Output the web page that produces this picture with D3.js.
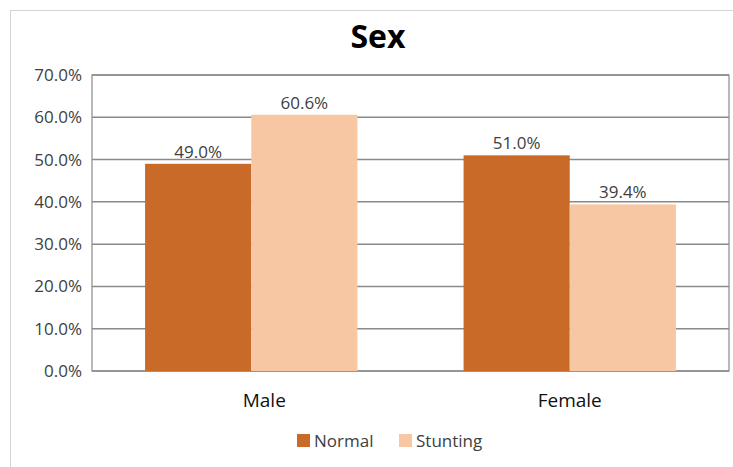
<!DOCTYPE html>
<html>
<head>
<meta charset="utf-8">
<script src="https://cdn.jsdelivr.net/npm/d3@7"></script>
<style>
  body { margin: 0; background: #fff; }
  text { font-family: "Open Sans", "Noto Sans", sans-serif; }
</style>
</head>
<body>
<svg id="chart" width="733" height="467"></svg>
<script>
// chart data
var categories = ["Male", "Female"];
var seriesNames = ["Normal", "Stunting"];
var normalValues = [0.490, 0.510];
var stuntingValues = [0.606, 0.394];
var yTicks = [0, 0.1, 0.2, 0.3, 0.4, 0.5, 0.6, 0.7];
var colors = { "Normal": "#C96A28", "Stunting": "#F7C7A4" };

var svg = d3.select("#chart");
var margin = { left: 92, top: 75, right: 729, bottom: 371 };

// outer frame of the chart
svg.append("rect")
    .attr("x", 10.5).attr("y", 10.5)
    .attr("width", 740).attr("height", 470)
    .attr("fill", "none").attr("stroke", "#d4d4d4");

svg.append("text")
    .attr("x", 378).attr("y", 48)
    .attr("text-anchor", "middle")
    .style("font-size", "32px").style("font-weight", "bold")
    .attr("fill", "#000")
    .text("Sex");

var x0 = d3.scaleBand().domain(categories)
    .range([margin.left, margin.right]).paddingInner(0).paddingOuter(0);
var x1 = d3.scaleBand().domain(seriesNames)
    .range([0, x0.bandwidth()]).paddingInner(0).paddingOuter(0.5);
var y = d3.scaleLinear().domain([0, 0.7]).range([margin.bottom, margin.top]);

// gridlines
svg.append("g").selectAll("line").data(yTicks).enter().append("line")
    .attr("x1", margin.left).attr("x2", margin.right)
    .attr("y1", function(d) { return y(d); })
    .attr("y2", function(d) { return y(d); })
    .attr("stroke", "#8a8a8a").attr("stroke-width", 1.5);

// plot area border
svg.append("rect")
    .attr("x", margin.left).attr("y", margin.top)
    .attr("width", margin.right - margin.left)
    .attr("height", margin.bottom - margin.top)
    .attr("fill", "none").attr("stroke", "#8a8a8a").attr("stroke-width", 1.2);

// y axis labels
var yAxis = d3.axisLeft(y).tickValues(yTicks).tickSize(0).tickPadding(10)
    .tickFormat(d3.format(".1%"));
var gy = svg.append("g").attr("transform", "translate(" + margin.left + ",0)").call(yAxis);
gy.select(".domain").remove();
gy.selectAll("text").style("font-size", "17px").attr("fill", "#404040");

var rows = categories.map(function(c, i) {
    return { cat: c, vals: [
        { name: "Normal", value: normalValues[i] },
        { name: "Stunting", value: stuntingValues[i] }
    ] };
});

var groups = svg.append("g").selectAll("g").data(rows).enter().append("g")
    .attr("transform", function(d) { return "translate(" + x0(d.cat) + ",0)"; });

groups.selectAll("rect").data(function(d) { return d.vals; }).enter().append("rect")
    .attr("x", function(d) { return x1(d.name); })
    .attr("width", x1.bandwidth())
    .attr("y", function(d) { return y(d.value); })
    .attr("height", function(d) { return y(0) - y(d.value); })
    .attr("fill", function(d) { return colors[d.name]; });

groups.selectAll("text.lbl").data(function(d) { return d.vals; }).enter().append("text")
    .attr("class", "lbl")
    .attr("x", function(d) { return x1(d.name) + x1.bandwidth() / 2; })
    .attr("y", function(d) { return y(d.value) - 6; })
    .attr("text-anchor", "middle")
    .style("font-size", "17px").attr("fill", "#404040")
    .text(function(d) { return d3.format(".1%")(d.value); });

// x axis labels
var xAxis = d3.axisBottom(x0).tickSize(0).tickPadding(23);
var gx = svg.append("g").attr("transform", "translate(0," + margin.bottom + ")").call(xAxis);
gx.select(".domain").remove();
gx.selectAll("text").style("font-size", "19px").attr("fill", "#111");
// the first label sits a little right of its group in the original
gx.selectAll("text").filter(function(d) { return d == "Male"; }).attr("dx", 13);

// legend
var legendX = [297, 399];
var legend = svg.append("g").selectAll("g").data(seriesNames).enter().append("g")
    .attr("transform", function(d, i) { return "translate(" + legendX[i] + ",434)"; });
legend.append("rect").attr("width", 13).attr("height", 13)
    .attr("fill", function(d) { return colors[d]; });
legend.append("text").attr("x", 17).attr("y", 13)
    .style("font-size", "17px").attr("fill", "#404040")
    .text(function(d) { return d; });
</script>
</body>
</html>
